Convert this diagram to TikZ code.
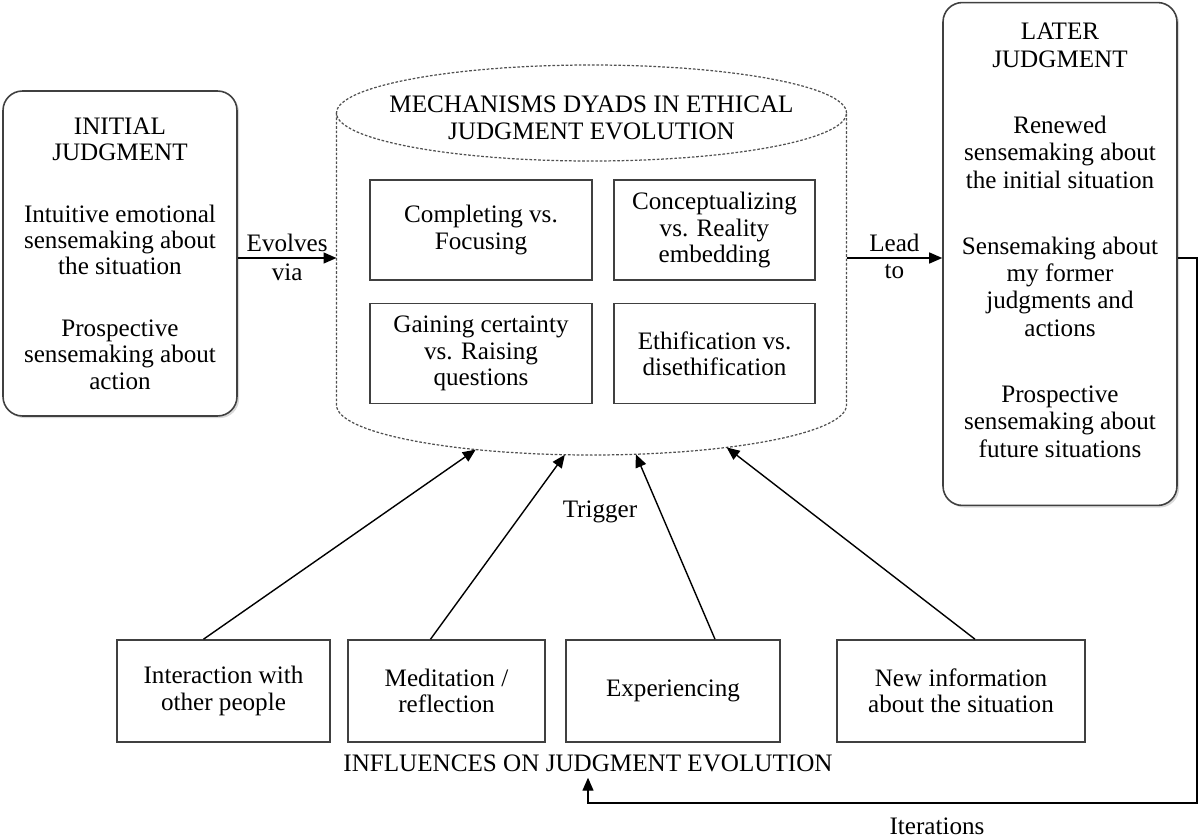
\documentclass[tikz,border=0pt]{standalone}
\usepackage{fontspec}
\setmainfont{Liberation Serif}
\usetikzlibrary{arrows.meta,positioning,calc,shadows}
\definecolor{Frame}{HTML}{404040}
\definecolor{Dash}{HTML}{505050}
\newcommand{\txtsize}{\fontsize{14.3}{15}\selectfont}
\tikzset{
  judgment/.style={draw=Frame, fill=white, line width=0.9pt, rounded corners=11pt, align=center, minimum width=4.68cm,
    drop shadow={shadow xshift=1.2pt, shadow yshift=-1.2pt, opacity=0.3}},
  dyad/.style={draw=Frame, line width=0.9pt, align=center, minimum height=2cm},
  influence/.style={draw=Frame, line width=0.9pt, align=center, minimum height=2.04cm},
  flow/.style={line width=0.8pt, -{Triangle[length=2.6mm,width=2.2mm]}},
  cylline/.style={Dash, line width=0.7pt, dash pattern=on 1.5pt off 1pt},
  edgelabel/.style={inner sep=1pt}
}

\begin{document}
\begin{tikzpicture}[x=0.02cm, y=0.02cm, font=\txtsize]
  \useasboundingbox (0,0) rectangle (1201,-838);
  % mechanisms cylinder
  \coordinate (cyltop) at (591.5,-113);
  \coordinate (cylbot) at (591.5,-405);
  \draw[cylline] (cyltop) ellipse [x radius=255, y radius=48];
  \draw[cylline] ($(cyltop)+(-255,0)$) -- ($(cylbot)+(-255,0)$)
    arc[start angle=180, end angle=360, x radius=255, y radius=50] -- ($(cyltop)+(255,0)$);
  \node[align=center] (mechtitle) at (591.5,-118) {MECHANISMS DYADS IN ETHICAL\\JUDGMENT EVOLUTION};
  \coordinate (cylW) at ($(cyltop)+(-255,-145)$);
  \coordinate (cylE) at ($(cyltop)+(255,-145)$);

  \node[dyad, minimum width=4.44cm] (completing) at (481,-230) {Completing vs.\\Focusing};
  \node[dyad, minimum width=4.02cm] (conceptual) at (714.5,-230) {Conceptualizing\\vs. Reality\\embedding};
  \node[dyad, minimum width=4.44cm] (certainty) at (481,-353.5) {Gaining certainty\\vs. Raising\\questions};
  \node[dyad, minimum width=4.02cm] (ethification) at (714.5,-353.5) {Ethification vs.\\disethification};

  % judgments
  \node[judgment, minimum height=6.5cm] (initial) at (120,-253.5)
    {INITIAL\\JUDGMENT\\[20pt]Intuitive emotional\\sensemaking about\\the situation\\[20pt]Prospective\\sensemaking about\\action};
  \node[judgment, minimum height=10.06cm, text depth=0.55cm, font=\fontsize{14.3}{15.6}\selectfont] (later) at (1060,-254)
    {LATER\\JUDGMENT\\[22pt]Renewed\\sensemaking about\\the initial situation\\[22pt]Sensemaking about\\my former\\judgments and\\actions\\[22pt]Prospective\\sensemaking about\\future situations};

  \draw[flow] (initial.east |- cylW) -- node[edgelabel, above=2pt]{Evolves} node[edgelabel, below=2pt]{via} (cylW);
  \draw[flow] (cylE) -- node[edgelabel, above=2pt]{Lead} node[edgelabel, below=2pt]{to} (later.west |- cylE);

  % influences
  \node[influence, minimum width=4.26cm] (interact) at (223.5,-691) {Interaction with\\other people};
  \node[influence, minimum width=3.94cm] (meditate) at (446.5,-691) {Meditation /\\reflection};
  \node[influence, minimum width=4.28cm] (experience) at (673,-691) {Experiencing};
  \node[influence, minimum width=4.96cm] (newinfo) at (961,-691) {New information\\about the situation};

  \foreach \src/\ang/\dx in {interact/243/-20, meditate/264/-16, experience/280/42, newinfo/302/14}
    \draw[flow] ([xshift=\dx*0.02cm]\src.north) -- ($(cylbot)+(\ang:255 and 50)$);

  \node (trigger) at (600,-512) {Trigger};
  \node (influences) at (588,-763) {INFLUENCES ON JUDGMENT EVOLUTION};
  \coordinate (loopR) at (1197,-803);
  \draw[flow] (later.east |- cylE) -| (loopR) -| (influences.south);
  \node (iterations) at (937,-826) {Iterations};
\end{tikzpicture}
\end{document}
